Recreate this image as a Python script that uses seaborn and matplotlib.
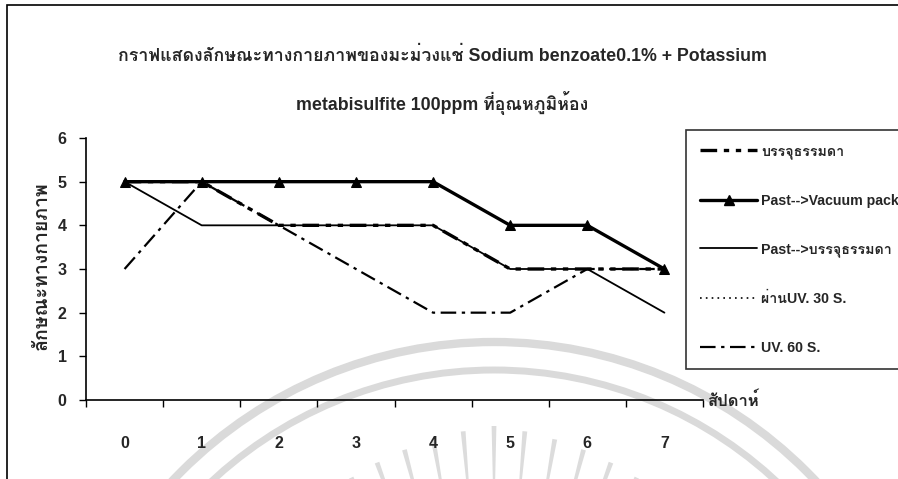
import matplotlib
matplotlib.use("Agg")
import matplotlib.pyplot as plt
from matplotlib import font_manager
from matplotlib.patches import Rectangle, Arc, Polygon
from matplotlib.lines import Line2D
import numpy as np
import pandas as pd
import seaborn as sns
from fontTools.ttLib import TTFont

# weekly physical-quality scores
weeks = [0, 1, 2, 3, 4, 5, 6, 7]
week_labels = ["0", "1", "2", "3", "4", "5", "6", "7"]
normal_pack = [5, 5, 4, 4, 4, 3, 3, 3]
vacuum_pack = [5, 5, 5, 5, 5, 4, 4, 3]
past_normal = [5, 4, 4, 4, 4, 3, 3, 2]
uv_30 = [5, 5, 5, 5, 5, 4, 4, 3]
uv_60 = [3, 5, 4, 3, 2, 2, 3, 3]
series_names = ["บรรจุธรรมดา", "Past-->Vacuum pack", "Past-->บรรจุธรรมดา",
                "ผ่านUV. 30 S.", "UV. 60 S."]

title_text = ("กราฟแสดงลักษณะทางกายภาพของมะม่วงแช่ Sodium benzoate0.1% + Potassium\n\n"
              "metabisulfite 100ppm ที่อุณหภูมิห้อง")
y_label = "ลักษณะทางกายภาพ"
x_label = "สัปดาห์"

sns.set_theme(style="white")

# find an installed family that can draw Thai script
thai_families = []
for f in font_manager.fontManager.ttflist:
    try:
        cmap = TTFont(f.fname, fontNumber=0, lazy=True).getBestCmap()
        if cmap and ord("ก") in cmap and f.name not in thai_families:
            thai_families.append(f.name)
    except Exception:
        pass
families = ["Liberation Sans"] + thai_families + ["DejaVu Sans"]
plt.rcParams["font.family"] = families

df = pd.DataFrame({
    "week": weeks * 5,
    "score": normal_pack + vacuum_pack + past_normal + uv_30 + uv_60,
    "series": sum([[n] * len(weeks) for n in series_names], []),
})

styles = {
    series_names[0]: dict(lw=2.4, dashes=(5, 2, 1.6, 2, 1.6, 2), marker=None),
    series_names[1]: dict(lw=2.4, dashes=None, marker="^"),
    series_names[2]: dict(lw=1.3, dashes=None, marker=None),
    series_names[3]: dict(lw=1.2, dashes=(1, 2.5), marker=None),
    series_names[4]: dict(lw=1.6, dashes=(7, 2.5, 1.5, 2.5), marker=None),
}

W, H = 898, 479
fig = plt.figure(figsize=(W / 100, H / 100), dpi=100)

# faint seal watermark in the background (pixel coordinates)
bg = fig.add_axes([0, 0, 1, 1], zorder=-5)
bg.set_xlim(0, W)
bg.set_ylim(H, 0)
bg.axis("off")
cx, cy = 494, 784
for r, lw in [(442, 6.0), (414, 5.0)]:
    bg.add_patch(Arc((cx, cy), 2 * r, 2 * r, angle=0, theta1=180, theta2=360,
                     color="#dadada", lw=lw))
for ang in np.arange(-30, 31, 5.0):
    a = np.deg2rad(ang)
    r1 = 358 - 0.8 * abs(ang)
    r0 = r1 - 70
    ux, uy = np.sin(a), -np.cos(a)
    px, py = np.cos(a), np.sin(a)
    tip = (cx + r1 * ux, cy + r1 * uy)
    base = (cx + r0 * ux, cy + r0 * uy)
    wedge = [(tip[0] - 2.4 * px, tip[1] - 2.4 * py),
             (tip[0] + 2.4 * px, tip[1] + 2.4 * py),
             (base[0] + 0.8 * px, base[1] + 0.8 * py),
             (base[0] - 0.8 * px, base[1] - 0.8 * py)]
    bg.add_patch(Polygon(wedge, closed=True, facecolor="#dcdcdc", edgecolor="none"))

ax = fig.add_axes([86 / W, 1 - 400 / H, (703 - 86) / W, (400 - 138) / H])

draw_order = [series_names[3], series_names[2], series_names[0], series_names[1], series_names[4]]
for name in draw_order:
    st = styles[name]
    sub = df[df["series"] == name]
    sns.lineplot(data=sub, x="week", y="score", ax=ax, color="black",
                 lw=st["lw"], marker=st["marker"], markersize=6.5,
                 markeredgecolor="black", legend=False,
                 **({"dashes": False} if st["dashes"] is None else {}))
    line = ax.lines[-1]
    if st["dashes"] is not None:
        line.set_dashes(st["dashes"])

ax.set_xlim(-0.5, 7.5)
ax.set_ylim(0, 6)
ax.set_xticks(weeks)
ax.set_xticklabels(week_labels, fontweight="bold", fontsize=11.5)
ax.set_xticks(np.arange(-0.5, 8.0, 1.0), minor=True)
ax.set_yticks(range(0, 7))
ax.set_yticklabels([str(v) for v in range(0, 7)], fontweight="bold", fontsize=11.5)
ax.tick_params(axis="x", which="major", length=0, pad=26)
ax.tick_params(axis="x", which="minor", length=5, width=1, direction="out", color="black", bottom=True)
ax.tick_params(axis="y", length=5, width=1, direction="out", color="black", left=True, pad=9)
for side in ["top", "right"]:
    ax.spines[side].set_visible(False)
for side in ["left", "bottom"]:
    ax.spines[side].set_color("black")
    ax.spines[side].set_linewidth(1.2)
ax.set_xlabel("")
ax.set_ylabel("")
ax.set_facecolor("none")

fig.text(707 / W, 1 - 400 / H, x_label, fontsize=12, fontweight="bold",
         ha="left", va="center")
fig.text(42 / W, 1 - 266 / H, y_label, fontsize=14, fontweight="bold",
         rotation=90, ha="center", va="center")
fig.text(442 / W, 1 - 81 / H, title_text, fontsize=12.8, fontweight="bold",
         ha="center", va="center", linespacing=1.3)

# outer chart frame
fig.patches.append(Rectangle((7 / W, -0.1), 1.2, 1 - 5 / H + 0.1,
                             transform=fig.transFigure, fill=False,
                             edgecolor="black", lw=1.2))

handles = []
for name in series_names:
    st = styles[name]
    h = Line2D([], [], color="black", lw=st["lw"], marker=st["marker"], markersize=6.5)
    if st["dashes"] is not None:
        h.set_dashes(st["dashes"])
    handles.append(h)
leg = fig.legend(handles, series_names, loc="upper left",
                 bbox_to_anchor=(686 / W, 1 - 130 / H),
                 frameon=True, fancybox=False, edgecolor="black",
                 fontsize=10.2, handlelength=4.0, handletextpad=0.3,
                 labelspacing=2.45, borderpad=1.0, borderaxespad=0)
leg.get_frame().set_linewidth(1.2)
for t in leg.get_texts():
    t.set_fontweight("bold")

fig.savefig("out.png", dpi=100)
